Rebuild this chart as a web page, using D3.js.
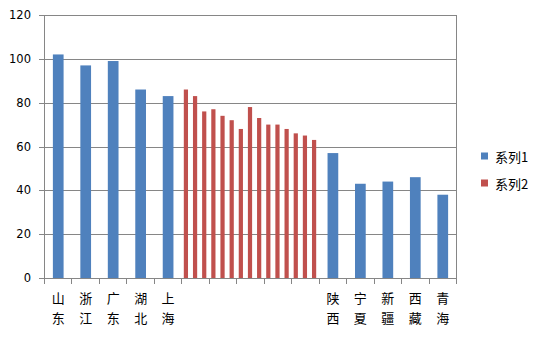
<!DOCTYPE html>
<html>
<head>
<meta charset="utf-8">
<script src="https://cdn.jsdelivr.net/npm/d3@7/dist/d3.min.js"></script>
<style>
    body { margin: 0; background: #fff; }
    svg { display: block; }
</style>
</head>
<body>
<svg id="chart" width="544" height="340"></svg>
<script>
// category labels, the five middle slots carry no label
var categories = ["山东", "浙江", "广东", "湖北", "上海", "", "", "", "", "", "陕西", "宁夏", "新疆", "西藏", "青海"];
// series 1 (blue), null where the slot belongs to series 2
var series1 = [102, 97, 99, 86, 83, null, null, null, null, null, 57, 43, 44, 46, 38];
// series 2 (red), three thin bars in each of the five middle slots
var series2 = [
    [86, 83, 76],
    [77, 74, 72],
    [68, 78, 73],
    [70, 70, 68],
    [66, 65, 63]
];
var series2Start = 5;
var yTicks = [0, 20, 40, 60, 80, 100, 120];
var legendNames = ["系列1", "系列2"];

var colors = ["#4F81BD", "#C0504D"];
var axisColor = "#868686";

const createsvg = (svg) =>
{
    var left = 44, right = 456, top = 15, bottom = 278;

    var x = d3.scaleBand()
        .domain(d3.range(categories.length))
        .range([left, right])
        .padding(0);

    var y = d3.scaleLinear()
        .domain([0, 120])
        .range([bottom, top]);

    var sub = d3.scaleBand()
        .domain(d3.range(3))
        .range([0, x.bandwidth()])
        .padding(0);

    // gridlines
    svg.append("g")
        .attr("stroke", axisColor)
        .attr("shape-rendering", "crispEdges")
        .selectAll("line")
        .data(yTicks.filter(d => d > 0))
        .enter().append("line")
        .attr("x1", left)
        .attr("x2", right)
        .attr("y1", d => Math.round(y(d)) + 0.5)
        .attr("y2", d => Math.round(y(d)) + 0.5);

    // series 1 bars
    var bw1 = x.bandwidth() * 0.39;
    svg.append("g")
        .attr("fill", colors[0])
        .selectAll("rect")
        .data(series1.map((v, i) => ({ i: i, v: v })).filter(d => d.v != null))
        .enter().append("rect")
        .attr("x", d => x(d.i) + (x.bandwidth() - bw1) / 2 + 0.5)
        .attr("width", bw1)
        .attr("y", d => y(d.v))
        .attr("height", d => y(0) - y(d.v));

    // series 2 bars
    var flat2 = [];
    series2.forEach(function (group, g)
    {
        group.forEach(function (v, k)
        {
            flat2.push({ i: series2Start + g, k: k, v: v });
        });
    });
    var bw2 = sub.bandwidth() * 0.46;
    svg.append("g")
        .attr("fill", colors[1])
        .selectAll("rect")
        .data(flat2)
        .enter().append("rect")
        .attr("x", d => x(d.i) + sub(d.k) + (sub.bandwidth() - bw2) / 2)
        .attr("width", bw2)
        .attr("y", d => y(d.v))
        .attr("height", d => y(0) - y(d.v));

    // axes
    var axes = svg.append("g")
        .attr("stroke", axisColor)
        .attr("shape-rendering", "crispEdges");

    axes.append("line")
        .attr("x1", left + 0.5).attr("x2", left + 0.5)
        .attr("y1", top).attr("y2", bottom + 0.5);
    axes.append("line")
        .attr("x1", right + 0.5).attr("x2", right + 0.5)
        .attr("y1", top).attr("y2", bottom + 0.5);
    axes.append("line")
        .attr("x1", left).attr("x2", right + 1)
        .attr("y1", bottom + 0.5).attr("y2", bottom + 0.5);

    axes.selectAll(".ytick")
        .data(yTicks)
        .enter().append("line")
        .attr("x1", left - 5).attr("x2", left)
        .attr("y1", d => Math.round(y(d)) + 0.5)
        .attr("y2", d => Math.round(y(d)) + 0.5);

    axes.selectAll(".xtick")
        .data(d3.range(categories.length + 1))
        .enter().append("line")
        .attr("x1", d => Math.round(left + d * x.bandwidth()) + 0.5)
        .attr("x2", d => Math.round(left + d * x.bandwidth()) + 0.5)
        .attr("y1", bottom)
        .attr("y2", bottom + 6);

    // y labels
    svg.append("g")
        .attr("font-family", "DejaVu Sans, sans-serif")
        .attr("font-size", 11.5)
        .attr("fill", "#000")
        .attr("text-anchor", "end")
        .selectAll("text")
        .data(yTicks)
        .enter().append("text")
        .attr("x", 31)
        .attr("y", d => y(d))
        .attr("dy", "0.36em")
        .text(d => d);

    // x labels, one character per line
    var xl = svg.append("g")
        .attr("font-family", "Noto Sans CJK SC, sans-serif")
        .attr("font-size", 13)
        .attr("fill", "#000")
        .attr("text-anchor", "middle");

    categories.forEach(function (name, i)
    {
        name.split("").forEach(function (ch, j)
        {
            xl.append("text")
                .attr("x", x(i) + x.bandwidth() / 2 + 0.5)
                .attr("y", 297.5 + j * 20)
                .attr("dominant-baseline", "central")
                .text(ch);
        });
    });

    // legend
    var legend = svg.append("g")
        .selectAll("g")
        .data(legendNames)
        .enter().append("g")
        .attr("transform", (d, i) => `translate(481,${156 + i * 27})`);

    legend.append("rect")
        .attr("x", 0).attr("y", -3.5)
        .attr("width", 7).attr("height", 7)
        .attr("fill", (d, i) => colors[i]);

    legend.append("text")
        .attr("x", 14)
        .attr("y", 0)
        .attr("dominant-baseline", "central")
        .attr("font-family", "Noto Sans CJK SC, sans-serif")
        .attr("font-size", 13)
        .attr("fill", "#000")
        .text(d => d);
};

createsvg(d3.select("#chart"));
</script>
</body>
</html>
